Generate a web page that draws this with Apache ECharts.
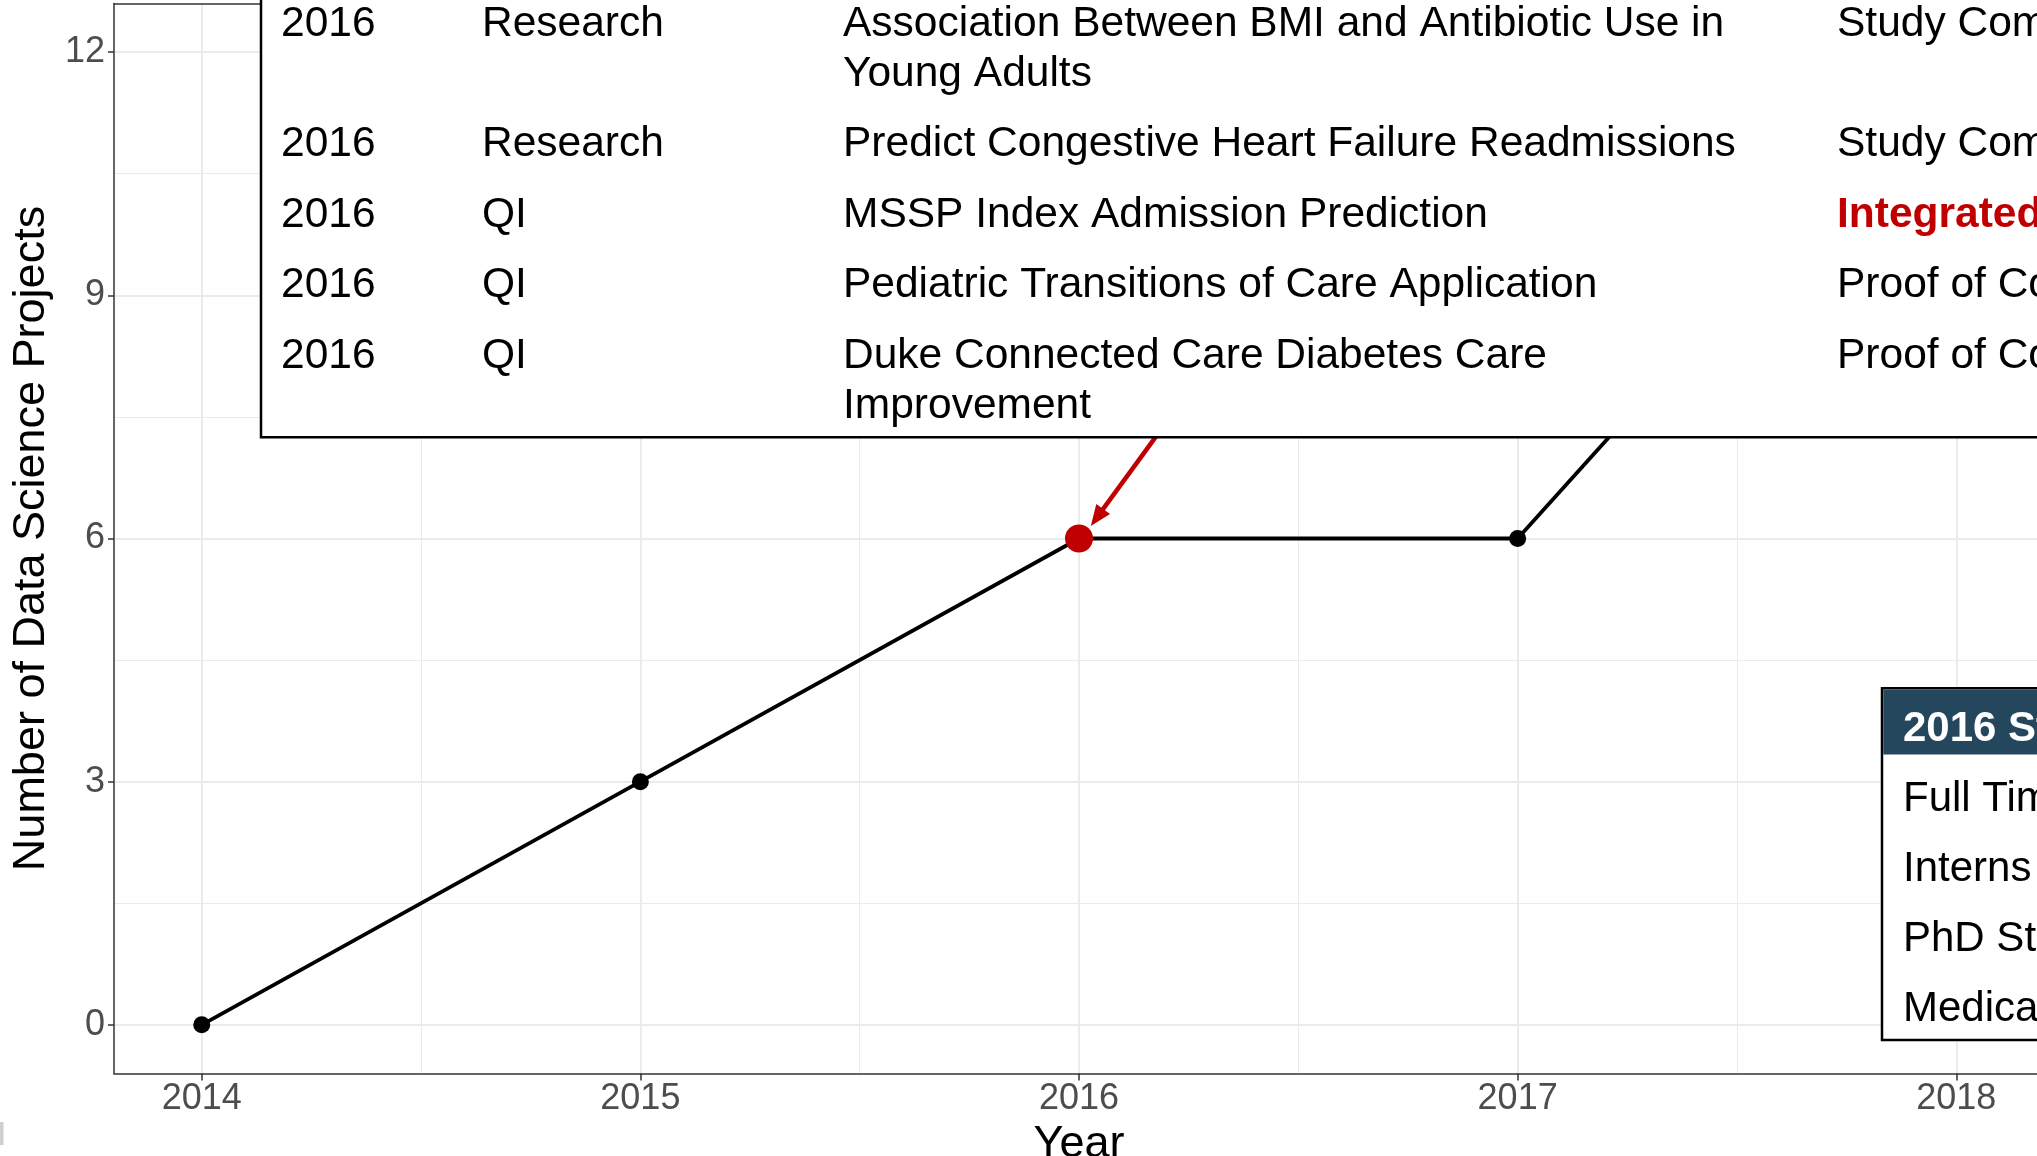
<!DOCTYPE html>
<html>
<head>
<meta charset="utf-8">
<script src="https://cdn.jsdelivr.net/npm/echarts@6/dist/echarts.min.js"></script>
<style>
  html, body { margin: 0; padding: 0; background: #fff; }
  #chart { width: 2037px; height: 1156px; }
</style>
</head>
<body>
<div id="chart"></div>
<script>
// data
var years = [2014, 2015, 2016, 2017, 2018];
var projects = [0, 3, 6, 6, 12];
var highlightYear = 2016;
var xTicks = [2014, 2015, 2016, 2017, 2018];
var xMinor = [2014.5, 2015.5, 2016.5, 2017.5];
var yTicks = [0, 3, 6, 9, 12];
var yMinor = [1.5, 4.5, 7.5, 10.5];

// 2016 project table
var projYear = ['2016', '2016', '2016', '2016', '2016'];
var projType = ['Research', 'Research', 'QI', 'QI', 'QI'];
var projName = [
  'Association Between BMI and Antibiotic Use in\nYoung Adults',
  'Predict Congestive Heart Failure Readmissions',
  'MSSP Index Admission Prediction',
  'Pediatric Transitions of Care Application',
  'Duke Connected Care Diabetes Care\nImprovement'
];
var projStatus = ['Study Completed', 'Study Completed', 'Integrated', 'Proof of Concept', 'Proof of Concept'];
var highlightRow = 2;

// 2016 staff table
var staffTitle = '2016 Staff';
var staffRows = ['Full Time Staff', 'Interns', 'PhD Students', 'Medical Students'];

var FONT = 'Liberation Sans, Arial, Helvetica, sans-serif';
var RED = '#C00000';

var chart = echarts.init(document.getElementById('chart'));

var lineData = years.map(function (y, i) {
  if (y === highlightYear) {
    return { value: [y, projects[i]], symbolSize: 28, itemStyle: { color: RED } };
  }
  return [y, projects[i]];
});

// tables drawn on top of the plot
var graphics = [];
graphics.push({
  type: 'rect', z: 100,
  shape: { x: 261, y: -20, width: 1850, height: 457.3 },
  style: { fill: '#fff', stroke: '#000', lineWidth: 2.5 }
});
var colX = [281, 482, 843, 1837];
var rowCenter = 24;
projName.forEach(function (name, i) {
  var cells = [projYear[i], projType[i], name, projStatus[i]];
  cells.forEach(function (txt, c) {
    var hl = (i === highlightRow && c === 3);
    graphics.push({
      type: 'text', z: 101,
      x: colX[c], y: rowCenter - 25,
      style: {
        text: txt, fill: hl ? RED : '#000',
        font: (hl ? 'bold ' : '') + '42.5px ' + FONT,
        lineHeight: 50, verticalAlign: 'top', align: 'left'
      }
    });
  });
  rowCenter += (name.split('\n').length - 1) * 50 + 70.5;
});

graphics.push({
  type: 'rect', z: 100,
  shape: { x: 1882, y: 688.3, width: 220, height: 351.7 },
  style: { fill: '#fff', stroke: '#000', lineWidth: 2.5 }
});
graphics.push({
  type: 'rect', z: 101,
  shape: { x: 1883.3, y: 689.6, width: 220, height: 65 },
  style: { fill: '#24475E' }
});
graphics.push({
  type: 'text', z: 102, x: 1903, y: 729,
  style: { text: staffTitle, fill: '#fff', font: 'bold 42px ' + FONT, verticalAlign: 'middle' }
});
staffRows.forEach(function (txt, i) {
  graphics.push({
    type: 'text', z: 102, x: 1903, y: 799.5 + i * 70,
    style: { text: txt, fill: '#000', font: '42px ' + FONT, verticalAlign: 'middle' }
  });
});
graphics.push({
  type: 'rect', z: 100,
  shape: { x: 0, y: 1122, width: 3.5, height: 23 },
  style: { fill: '#cfcfcf' }
});

var gridMajor = { show: true, lineStyle: { color: '#EBEBEB', width: 2 } };
var gridMinor = { show: true, lineStyle: { color: '#EBEBEB', width: 1 } };
var axisLineStyle = { color: '#333', width: 1.5 };

chart.setOption({
  animation: false,
  backgroundColor: '#fff',
  textStyle: { fontFamily: FONT },
  grid: {
    left: 114, top: 3.5, width: 1930, height: 1070,
    containLabel: false, outerBoundsMode: 'none'
  },
  xAxis: [{
    type: 'value', min: 2013.8, max: 2018.2,
    name: 'Year', nameLocation: 'middle', nameGap: 37,
    nameTextStyle: { fontSize: 45, color: '#000', fontFamily: FONT },
    axisLine: { show: true, onZero: false, lineStyle: axisLineStyle },
    axisTick: { show: true, length: 7, customValues: xTicks, lineStyle: axisLineStyle },
    axisLabel: {
      customValues: xTicks, margin: 8, fontSize: 36, color: '#4D4D4D', fontFamily: FONT,
      formatter: function (v) { return String(v); }
    },
    splitLine: gridMajor
  }, {
    type: 'value', position: 'top', min: 2013.8, max: 2018.2,
    axisLine: { show: true, onZero: false, lineStyle: axisLineStyle },
    axisTick: { show: false, customValues: xMinor },
    axisLabel: { show: false },
    splitLine: gridMinor
  }],
  yAxis: [{
    type: 'value', min: -0.6, max: 12.6,
    name: 'Number of Data Science Projects', nameLocation: 'middle', nameGap: 50,
    nameTextStyle: { fontSize: 45, color: '#000', fontFamily: FONT },
    axisLine: { show: true, onZero: false, lineStyle: axisLineStyle },
    axisTick: { show: true, length: 6, customValues: yTicks, lineStyle: axisLineStyle },
    axisLabel: { customValues: yTicks, margin: 9, fontSize: 36, color: '#4D4D4D', fontFamily: FONT },
    splitLine: gridMajor
  }, {
    type: 'value', position: 'right', min: -0.6, max: 12.6,
    axisLine: { show: false },
    axisTick: { show: false, customValues: yMinor },
    axisLabel: { show: false },
    splitLine: gridMinor
  }],
  series: [{
    type: 'line',
    xAxisIndex: 0, yAxisIndex: 0,
    data: lineData,
    symbol: 'circle', symbolSize: 17,
    itemStyle: { color: '#000' },
    lineStyle: { color: '#000', width: 3.8 },
    emphasis: { disabled: true },
    markLine: {
      silent: true, animation: false,
      symbol: ['none', 'triangle'],
      symbolSize: [17, 21],
      label: { show: false },
      emphasis: { disabled: true },
      lineStyle: { color: RED, width: 4.5, type: 'solid' },
      data: [[{ coord: [2016.343, 8.5] }, { coord: [2016.041, 6.26] }]]
    }
  }],
  graphic: graphics
});
</script>
</body>
</html>
